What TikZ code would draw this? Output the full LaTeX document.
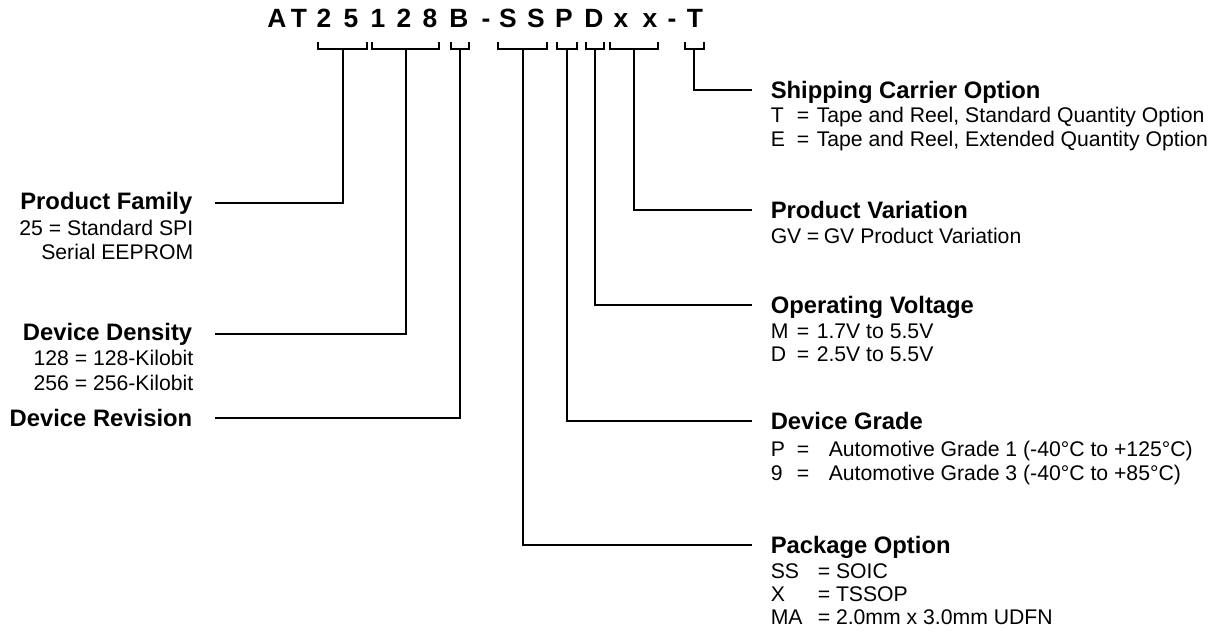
\documentclass[tikz,border=0pt]{standalone}
\usepackage{fontspec}
\setmainfont{Liberation Sans}
\begin{document}
\begin{tikzpicture}[x=0.5pt,y=-0.5pt, line width=0.75pt,
  code/.style={font=\fontsize{13.2}{15}\selectfont\bfseries, anchor=base, inner sep=0pt},
  title/.style={font=\fontsize{11.9}{14}\selectfont\bfseries, inner sep=0pt},
  body/.style={font=\fontsize{10.6}{13}\selectfont, inner sep=0pt},
  lbl/.style={title, anchor=base east},
  lbody/.style={body, anchor=base east},
  rtl/.style={title, anchor=base west},
  rbody/.style={body, anchor=base west},
  lead/.style={line width=0.75pt}]
\useasboundingbox (0,0) rectangle (1228,637);

% part number characters
\foreach \x/\c [count=\i] in {277/A,299/T,324/2,351/5,378/1,404/2,430/8,459/B,486/-,508/S,536/S,564/P,594/D,621/x,650/x,672/-,695/T}
  \node[code] (c\i) at (\x,27.5) {\c};

% brackets and stems
\foreach \a/\b/\m/\n in {318/367/343/pf,372/439/406/dd,451/469/460/dr,498/547/523/po,557/577/567/dg,586/604/595/ov,610/658/634/pv,685/704/694/sc}{
  \draw[lead] (\a,42) -- (\a,49) -- (\b,49) -- (\b,42);
  \coordinate (s\n) at (\m,49);
}

% left labels
\node[lbl] (pf) at (193,209) {Product Family};
\node[lbody] (pf1) at (194,235) {25 = Standard SPI};
\node[lbody] (pf2) at (194,259) {Serial EEPROM};
\node[lbl] (dd) at (193,340) {Device Density};
\node[lbody] (dd1) at (194,365) {128 = 128-Kilobit};
\node[lbody] (dd2) at (194,390) {256 = 256-Kilobit};
\node[lbl] (dr) at (193,426) {Device Revision};

\coordinate (epf) at (215,203);
\coordinate (edd) at (215,334);
\coordinate (edr) at (215,418);

% right labels
\node[rtl] (sc) at (770,98.5) {Shipping Carrier Option};
\node[rbody] (sc1k) at (770,122) {T};
\node[rbody] (sc1e) at (796,122) {=};
\node[rbody] (sc1v) at (816,122) {Tape and Reel, Standard Quantity Option};
\node[rbody] (sc2k) at (770,146) {E};
\node[rbody] (sc2e) at (796,146) {=};
\node[rbody] (sc2v) at (816,146) {Tape and Reel, Extended Quantity Option};

\node[rtl] (pv) at (770,218.5) {Product Variation};
\node[rbody] (pv1k) at (770,243) {GV};
\node[rbody] (pv1e) at (806,243) {=};
\node[rbody] (pv1v) at (823,243) {GV Product Variation};

\node[rtl] (ov) at (770,313.5) {Operating Voltage};
\node[rbody] (ov1k) at (770,338) {M};
\node[rbody] (ov1e) at (796,338) {=};
\node[rbody] (ov1v) at (816,338) {1.7V to 5.5V};
\node[rbody] (ov2k) at (770,361) {D};
\node[rbody] (ov2e) at (796,361) {=};
\node[rbody] (ov2v) at (816,361) {2.5V to 5.5V};

\node[rtl] (dg) at (770,429.5) {Device Grade};
\node[rbody] (dg1k) at (770,456) {P};
\node[rbody] (dg1e) at (796,456) {=};
\node[rbody] (dg1v) at (828,456) {Automotive Grade 1 (-40°C to +125°C)};
\node[rbody] (dg2k) at (770,480) {9};
\node[rbody] (dg2e) at (796,480) {=};
\node[rbody] (dg2v) at (828,480) {Automotive Grade 3 (-40°C to +85°C)};

\node[rtl] (po) at (770,553.5) {Package Option};
\node[rbody] (po1k) at (770,578) {SS};
\node[rbody] (po1v) at (817,578) {= SOIC};
\node[rbody] (po2k) at (770,601) {X};
\node[rbody] (po2v) at (817,601) {= TSSOP};
\node[rbody] (po3k) at (770,624) {MA};
\node[rbody] (po3v) at (817,624) {= 2.0mm x 3.0mm UDFN};

\coordinate (esc) at (752,90);
\coordinate (epv) at (752,210);
\coordinate (eov) at (752,305);
\coordinate (edg) at (752,421);
\coordinate (epo) at (752,545);

% leaders
\draw[lead] (spf) |- (epf);
\draw[lead] (sdd) |- (edd);
\draw[lead] (sdr) |- (edr);
\draw[lead] (ssc) |- (esc);
\draw[lead] (spv) |- (epv);
\draw[lead] (sov) |- (eov);
\draw[lead] (sdg) |- (edg);
\draw[lead] (spo) |- (epo);
\end{tikzpicture}
\end{document}
